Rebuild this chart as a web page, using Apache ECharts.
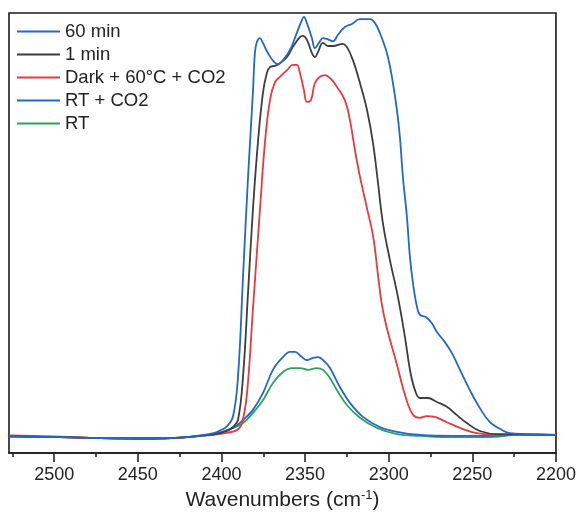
<!DOCTYPE html>
<html>
<head>
<meta charset="utf-8">
<script src="https://cdn.jsdelivr.net/npm/echarts@6/dist/echarts.min.js"></script>
<style>html,body{margin:0;padding:0;background:#fff;}#chart{width:579px;height:525px;}</style>
</head>
<body>
<div id="chart"></div>
<script>
// Wavenumber (cm-1), relative absorbance
const min60 = [[2527,0.038],[2496.5,0.036],[2472.6,0.034],[2442.7,0.033],[2424.8,0.035],[2412.8,0.040],[2403.9,0.046],[2400.9,0.051],[2396.9,0.060],[2393.1,0.083],[2390.1,0.173],[2387.1,0.400],[2384.1,0.627],[2381.2,0.818],[2380.0,0.909],[2378.8,0.934],[2377.0,0.943],[2375.2,0.932],[2372.2,0.909],[2368.6,0.889],[2366.2,0.884],[2363.2,0.893],[2359.0,0.916],[2354.9,0.955],[2351.9,0.984],[2350.7,0.991],[2348.9,0.977],[2345.9,0.943],[2344.1,0.920],[2341.7,0.932],[2339.3,0.943],[2336.9,0.941],[2333.3,0.936],[2330.4,0.950],[2326.2,0.968],[2322.0,0.975],[2317.2,0.986],[2311.2,0.986],[2308.2,0.977],[2305.3,0.955],[2301.1,0.909],[2298.1,0.855],[2295.1,0.780],[2293.3,0.718],[2291.5,0.627],[2289.1,0.536],[2287.3,0.445],[2285.5,0.386],[2283.1,0.332],[2281.3,0.314],[2277.8,0.309],[2274.2,0.295],[2271.2,0.275],[2266.4,0.252],[2262.2,0.227],[2257.4,0.189],[2251.5,0.143],[2245.5,0.102],[2239.5,0.070],[2233.5,0.055],[2227.6,0.045],[2217.4,0.043],[2200,0.041]];
const min1 = [[2527,0.038],[2496.5,0.036],[2472.6,0.034],[2442.7,0.033],[2424.8,0.035],[2412.8,0.039],[2403.9,0.043],[2396.9,0.050],[2393.1,0.059],[2390.1,0.075],[2387.1,0.173],[2384.1,0.364],[2381.2,0.552],[2378.2,0.705],[2375.2,0.818],[2372.8,0.864],[2371,0.877],[2368,0.880],[2365,0.886],[2360.8,0.900],[2357.3,0.923],[2353.1,0.945],[2351.3,0.948],[2348.9,0.939],[2345.9,0.909],[2344.1,0.900],[2342.3,0.911],[2339.3,0.932],[2336.3,0.925],[2333.3,0.925],[2327.4,0.930],[2325,0.923],[2321.4,0.893],[2317.2,0.841],[2313,0.780],[2309.4,0.705],[2306.4,0.614],[2303.5,0.523],[2299.3,0.439],[2294.5,0.355],[2290.3,0.264],[2287.3,0.189],[2284.3,0.143],[2281.3,0.125],[2276.6,0.125],[2271.2,0.116],[2265.2,0.105],[2259.2,0.086],[2253.3,0.068],[2245.5,0.050],[2235.3,0.043],[2221.6,0.043],[2200,0.041]];
const dark60 = [[2527,0.040],[2496.5,0.037],[2472.6,0.034],[2442.7,0.033],[2424.8,0.035],[2412.8,0.039],[2403.9,0.042],[2396.9,0.046],[2390.7,0.052],[2387.7,0.068],[2384.7,0.136],[2381.2,0.325],[2377,0.552],[2374,0.705],[2371,0.802],[2368,0.843],[2365,0.855],[2360.8,0.870],[2357.3,0.882],[2354.9,0.882],[2353.1,0.864],[2350.7,0.825],[2348.9,0.798],[2346.5,0.802],[2344.1,0.841],[2341.1,0.855],[2338.1,0.859],[2334.5,0.850],[2331.1,0.833],[2326.2,0.802],[2323.2,0.757],[2320.2,0.689],[2317.2,0.628],[2313.2,0.560],[2309.3,0.492],[2306.3,0.401],[2304.2,0.340],[2301.3,0.287],[2295.3,0.204],[2289.3,0.120],[2285.3,0.086],[2281.3,0.080],[2277.2,0.084],[2272.4,0.082],[2265.2,0.070],[2257.4,0.057],[2247.3,0.045],[2235.3,0.041],[2200,0.041]];
const rtCO2 = [[2527,0.038],[2496.5,0.036],[2472.6,0.034],[2442.7,0.033],[2424.8,0.035],[2412.8,0.039],[2403.9,0.043],[2393.1,0.057],[2387.1,0.075],[2381.2,0.098],[2375.2,0.136],[2369.2,0.189],[2363.2,0.218],[2359,0.230],[2356.1,0.230],[2351.9,0.218],[2348.9,0.211],[2345.3,0.216],[2342.3,0.218],[2338.1,0.207],[2335.1,0.193],[2329.2,0.150],[2323.2,0.114],[2315.4,0.082],[2305.3,0.059],[2295.1,0.048],[2281.3,0.041],[2261.6,0.039],[2241.3,0.039],[2221.6,0.041],[2200,0.041]];
const rt = [[2527,0.038],[2496.5,0.036],[2472.6,0.034],[2442.7,0.033],[2424.8,0.035],[2412.8,0.039],[2403.9,0.043],[2393.1,0.057],[2387.1,0.068],[2381.2,0.091],[2375.2,0.120],[2369.2,0.159],[2363.2,0.184],[2357.8,0.193],[2353.1,0.193],[2348.3,0.189],[2342.9,0.193],[2339.3,0.189],[2335.1,0.170],[2331,0.143],[2325,0.109],[2317.2,0.080],[2307,0.057],[2295.1,0.043],[2281.3,0.039],[2261.6,0.036],[2241.3,0.036],[2221.6,0.041],[2200,0.041]];

const seriesNames = ['60 min', '1 min', 'Dark + 60°C + CO2', 'RT + CO2', 'RT'];
const majorTicks = [2200, 2250, 2300, 2350, 2400, 2450, 2500];
const minorTicks = [2225, 2275, 2325, 2375, 2425, 2475, 2525];

const colors = ['#2168cc', '#3d3d3d', '#e8393d', '#2168cc', '#2ea25c'];
const datasets = [min60, min1, dark60, rtCO2, rt];
const FONT = '"Liberation Sans", Arial, sans-serif';
const AX = '#1a1a1a';

const chart = echarts.init(document.getElementById('chart'), null, {renderer: 'canvas'});
chart.setOption({
  animation: false,
  backgroundColor: '#fff',
  grid: {left: 9, right: 23, top: 13, bottom: 72, show: true, borderColor: AX, borderWidth: 1.6, backgroundColor: 'transparent'},
  legend: {
    data: seriesNames.map((n, i) => ({name: n, icon: 'rect', itemStyle: {color: colors[i]}})),
    orient: 'vertical',
    left: 17, top: 22, padding: 0,
    itemWidth: 43, itemHeight: 2, itemGap: 4,
    textStyle: {fontFamily: FONT, fontSize: 18.5, color: '#222', lineHeight: 18}
  },
  xAxis: [{
    type: 'value', inverse: true, min: 2200, max: 2527,
    name: 'Wavenumbers (cm{sup|-1})', nameLocation: 'middle', nameGap: 32,
    nameTextStyle: {fontFamily: FONT, fontSize: 21, color: '#222', rich: {sup: {fontFamily: FONT, fontSize: 13, color: '#222', verticalAlign: 'top', padding: [0, 0, 10, 0]}}},
    axisLine: {show: true, lineStyle: {color: AX, width: 1.6}},
    axisTick: {show: true, inside: false, length: 9, lineStyle: {color: AX, width: 1.5}, customValues: majorTicks},
    axisLabel: {fontFamily: FONT, fontSize: 18, color: '#222', margin: 13, customValues: majorTicks, formatter: v => String(v)},
    splitLine: {show: false}
  }, {
    type: 'value', inverse: true, min: 2200, max: 2527, position: 'bottom',
    axisLine: {show: false},
    axisTick: {show: true, inside: false, length: 4, lineStyle: {color: AX, width: 1.5}, customValues: minorTicks},
    axisLabel: {show: false},
    splitLine: {show: false}
  }],
  yAxis: {
    type: 'value', min: 0, max: 1,
    axisLine: {show: false}, axisTick: {show: false}, axisLabel: {show: false}, splitLine: {show: false}
  },
  series: datasets.map((d, i) => ({
    name: seriesNames[i],
    type: 'line',
    data: d,
    xAxisIndex: 0,
    symbol: 'none',
    smooth: 0.4,
    lineStyle: {color: colors[i], width: 1.8},
    itemStyle: {color: colors[i]},
    z: 10 - i
  }))
});
</script>
</body>
</html>
